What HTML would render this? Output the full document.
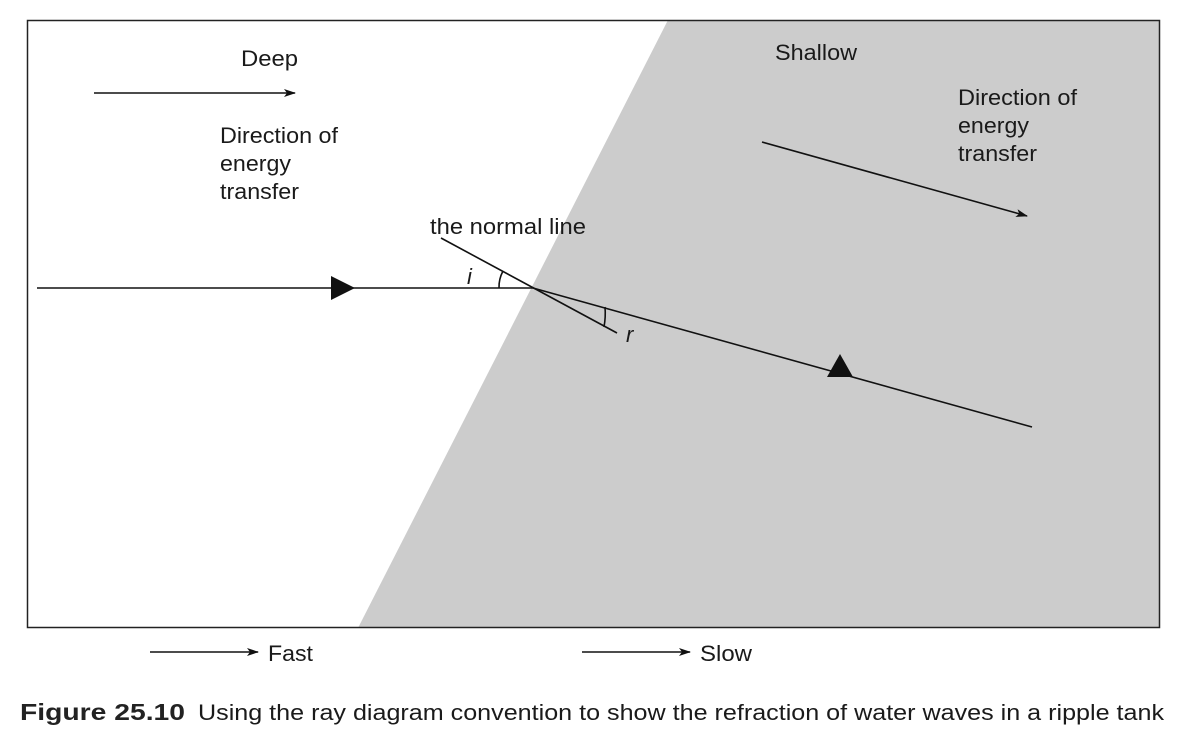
<!DOCTYPE html>
<html><head><style>
body{margin:0;background:#fff;width:1184px;height:742px;overflow:hidden}
svg{display:block}
text{font-family:"Liberation Sans",sans-serif;fill:#1a1a1a}
</style></head><body>
<svg width="1184" height="742" viewBox="0 0 1184 742">
<defs><marker id="a" markerWidth="12" markerHeight="8" refX="11" refY="4" orient="auto" markerUnits="userSpaceOnUse"><path d="M0,0 L12,4 L0,8 L3,4z" fill="#111"/></marker></defs>
<polygon points="668,20 1160,20 1160,628 358,628" fill="#cccccc"/>
<rect x="27.5" y="20.5" width="1132" height="607" fill="none" stroke="#222" stroke-width="1.5"/>
<g stroke="#111" stroke-width="1.6" fill="none">
<line x1="94" y1="93" x2="295" y2="93" marker-end="url(#a)"/>
<line x1="762" y1="142" x2="1027" y2="216" marker-end="url(#a)"/>
<line x1="37" y1="288" x2="533" y2="288"/>
<line x1="441" y1="238" x2="617" y2="333"/>
<line x1="533" y1="288" x2="1032" y2="427"/>
<path d="M499,288 A34,34 0 0 1 503,271"/>
<path d="M605,307 A75,75 0 0 1 604,327"/>
<line x1="150" y1="652" x2="258" y2="652" marker-end="url(#a)"/>
<line x1="582" y1="652" x2="690" y2="652" marker-end="url(#a)"/>
</g>
<polygon points="331,276 355,288 331,300" fill="#111"/>
<polygon points="840,354 853,377 827,377" fill="#111"/>
<g font-size="22" lengthAdjust="spacingAndGlyphs">
<text x="241" y="66" textLength="57" lengthAdjust="spacingAndGlyphs">Deep</text>
<text x="220" y="143" textLength="118" lengthAdjust="spacingAndGlyphs">Direction of</text>
<text x="220" y="171" textLength="71" lengthAdjust="spacingAndGlyphs">energy</text>
<text x="220" y="199" textLength="79" lengthAdjust="spacingAndGlyphs">transfer</text>
<text x="775" y="60" textLength="82" lengthAdjust="spacingAndGlyphs">Shallow</text>
<text x="958" y="105" textLength="119" lengthAdjust="spacingAndGlyphs">Direction of</text>
<text x="958" y="133" textLength="71" lengthAdjust="spacingAndGlyphs">energy</text>
<text x="958" y="161" textLength="79" lengthAdjust="spacingAndGlyphs">transfer</text>
<text x="430" y="234" textLength="156" lengthAdjust="spacingAndGlyphs">the normal line</text>
<text x="467" y="284" font-style="italic">i</text>
<text x="626" y="342" font-style="italic">r</text>
<text x="268" y="661" textLength="45" lengthAdjust="spacingAndGlyphs">Fast</text>
<text x="700" y="661" textLength="52" lengthAdjust="spacingAndGlyphs">Slow</text>
<text x="198" y="720" textLength="966" lengthAdjust="spacingAndGlyphs">Using the ray diagram convention to show the refraction of water waves in a ripple tank</text>
</g>
<text x="20" y="720" font-size="23" font-weight="bold" textLength="165" lengthAdjust="spacingAndGlyphs" style="fill:#222">Figure 25.10</text>
</svg>
</body></html>
